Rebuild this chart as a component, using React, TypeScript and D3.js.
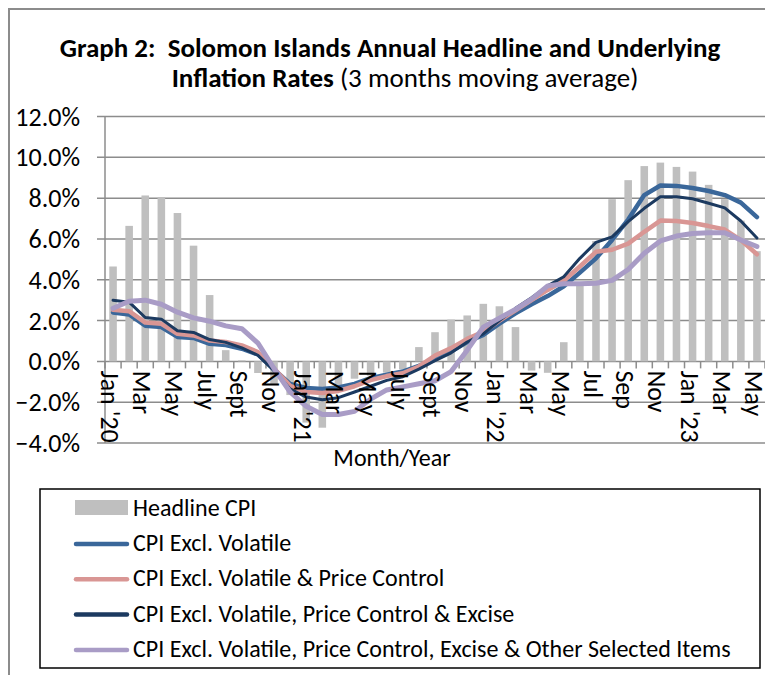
import { useEffect, useRef } from "react";
import * as d3 from "d3";

const months = [
  "Jan '20", "Feb", "Mar", "Apr", "May", "June", "July", "Aug", "Sept", "Oct", "Nov", "Dec",
  "Jan '21", "Feb", "Mar", "Apr", "May", "June", "July", "Aug", "Sept", "Oct", "Nov", "Dec",
  "Jan '22", "Feb", "Mar", "Apr", "May", "Jun", "Jul", "Aug", "Sep", "Oct", "Nov", "Dec",
  "Jan '23", "Feb", "Mar", "Apr", "May"
];

const yTicks = [-4, -2, 0, 2, 4, 6, 8, 10, 12];

const headlineCPI = [
  4.65, 6.64, 8.13, 8.05, 7.27, 5.67, 3.25, 0.55, 0.05, -0.57, -1.1, -1.65,
  -3.0, -3.25, -1.2, -0.85, -0.7, -0.55, -0.38, 0.7, 1.43, 2.05, 2.25, 2.82,
  2.7, 1.68, -0.45, -0.56, 0.94, 3.78, 5.9, 7.95, 8.88, 9.57, 9.74, 9.53,
  9.3, 8.65, 7.95, 6.9, 5.4
];

const exclVolatile = [
  2.4, 2.3, 1.75, 1.68, 1.2, 1.15, 0.86, 0.8, 0.62, 0.34, -0.4, -1.1,
  -1.3, -1.35, -1.28, -1.1, -0.82, -0.65, -0.5, -0.22, 0.1, 0.5, 0.95, 1.3,
  1.85, 2.35, 2.8, 3.2, 3.68, 4.35, 5.05, 5.95, 6.95, 8.15, 8.62, 8.6,
  8.5, 8.35, 8.15, 7.78, 7.07
];

const exclPriceControl = [
  2.53, 2.46, 1.9, 1.84, 1.35, 1.27, 1.02, 0.95, 0.78, 0.46, -0.35, -1.2,
  -1.5, -1.55, -1.45, -1.22, -0.92, -0.72, -0.58, -0.25, 0.28, 0.65, 1.1, 1.45,
  2.0, 2.5, 3.0, 3.5, 3.95, 4.65, 5.37, 5.47, 5.77, 6.35, 6.9, 6.88,
  6.78, 6.63, 6.46, 5.94, 5.25
];

const exclExcise = [
  3.0, 2.9, 2.15, 2.07, 1.5, 1.42, 1.07, 0.93, 0.66, 0.3, -0.45, -1.35,
  -1.75, -1.88, -1.78, -1.5, -1.22, -0.93, -0.75, -0.38, 0.03, 0.42, 0.95, 1.35,
  2.0, 2.6, 3.12, 3.7, 4.15, 5.05, 5.83, 6.1, 6.85, 7.5, 8.07, 8.07,
  7.97, 7.75, 7.52, 6.88, 6.05
];

const exclOther = [
  2.6, 2.95, 3.0, 2.8, 2.41, 2.13, 1.97, 1.74, 1.6, 0.9, -0.35, -1.5,
  -2.2, -2.6, -2.6, -2.45, -1.85, -1.4, -1.25, -1.1, -0.95, -0.5, 0.55, 1.68,
  2.12, 2.55, 3.05, 3.7, 3.8, 3.81, 3.83, 3.97, 4.5, 5.3, 5.9, 6.14,
  6.27, 6.3, 6.3, 5.95, 5.63
];

const FONT = "Carlito, Lato, sans-serif";

const lineSeries = [
  { name: "CPI Excl. Volatile", values: exclVolatile, color: "#3A679A", width: 4.5 },
  { name: "CPI Excl. Volatile & Price Control", values: exclPriceControl, color: "#D99694", width: 4.5 },
  { name: "CPI Excl. Volatile, Price Control & Excise", values: exclExcise, color: "#1C3A60", width: 3 },
  { name: "CPI Excl. Volatile, Price Control, Excise & Other Selected Items", values: exclOther, color: "#A99CC6", width: 5 }
];

export default function App() {
  const svgRef = useRef<SVGSVGElement>(null);

  useEffect(() => {
    const svg = d3.select(svgRef.current);
    svg.selectAll("*").remove();

    const left = 105, right = 765, top = 116.5, bottom = 443;

    const xScale = d3.scaleBand<number>()
      .domain(months.map((_, i) => i))
      .range([left, right])
      .paddingInner(0.53)
      .paddingOuter(0.265);
    const step = xScale.step();
    const cx = (i: number) => (xScale(i) as number) + xScale.bandwidth() / 2;

    const yScale = d3.scaleLinear().domain([-4, 12]).range([bottom, top]);

    // outer frame
    svg.append("path")
      .attr("d", "M9,675 L9,9 L765,9")
      .attr("fill", "none")
      .attr("stroke", "#8c8c8c")
      .attr("stroke-width", 2);

    // title
    const t1 = svg.append("text")
      .attr("x", 390).attr("y", 57)
      .attr("text-anchor", "middle")
      .attr("font-family", FONT).attr("font-size", 27).attr("font-weight", "bold")
      .attr("fill", "#000");
    t1.append("tspan").text("Graph 2:\u00a0 Solomon Islands Annual Headline and Underlying");

    const t2 = svg.append("text")
      .attr("x", 405).attr("y", 87)
      .attr("text-anchor", "middle")
      .attr("font-family", FONT).attr("font-size", 27)
      .attr("fill", "#000");
    t2.append("tspan").attr("font-weight", "bold").text("Inflation Rates");
    t2.append("tspan").text(" (3 months moving average)");

    // grid
    svg.append("g")
      .selectAll("line")
      .data(yTicks)
      .join("line")
      .attr("x1", left - 8).attr("x2", right)
      .attr("y1", d => yScale(d)).attr("y2", d => yScale(d))
      .attr("stroke", "#8c8c8c")
      .attr("stroke-width", 1.5);

    // bars
    svg.append("g")
      .selectAll("rect")
      .data(headlineCPI)
      .join("rect")
      .attr("x", (_, i) => xScale(i) as number)
      .attr("width", xScale.bandwidth())
      .attr("y", d => yScale(Math.max(0, d)))
      .attr("height", d => Math.abs(yScale(d) - yScale(0)))
      .attr("fill", "#BFBFBF");

    // y axis line
    svg.append("line")
      .attr("x1", left).attr("x2", left)
      .attr("y1", yScale(12)).attr("y2", yScale(-4))
      .attr("stroke", "#8c8c8c").attr("stroke-width", 1.5);

    // zero axis ticks
    svg.append("g")
      .selectAll("line")
      .data(d3.range(months.length + 1))
      .join("line")
      .attr("x1", i => left + i * step).attr("x2", i => left + i * step)
      .attr("y1", yScale(0)).attr("y2", yScale(0) + 7)
      .attr("stroke", "#8c8c8c").attr("stroke-width", 1.5);

    // lines
    const lineGen = d3.line<number>()
      .x((_, i) => cx(i))
      .y(d => yScale(d));

    svg.append("g")
      .selectAll("path")
      .data(lineSeries)
      .join("path")
      .attr("d", s => lineGen(s.values))
      .attr("fill", "none")
      .attr("stroke", s => s.color)
      .attr("stroke-width", s => s.width)
      .attr("stroke-linejoin", "round")
      .attr("stroke-linecap", "round");

    // x labels (every second month)
    svg.append("g")
      .selectAll("text")
      .data(months.map((m, i) => ({ m, i })).filter(d => d.i % 2 === 0))
      .join("text")
      .attr("transform", d => `translate(${cx(d.i) - 3},${yScale(0) + 9}) rotate(90)`)
      .attr("dominant-baseline", "central")
      .attr("font-family", FONT).attr("font-size", 26)
      .attr("fill", "#000")
      .text(d => d.m);

    // y labels
    svg.append("g")
      .selectAll("text")
      .data(yTicks)
      .join("text")
      .attr("x", 80)
      .attr("y", d => yScale(d))
      .attr("dy", "0.35em")
      .attr("text-anchor", "end")
      .attr("font-family", FONT).attr("font-size", 26)
      .attr("fill", "#000")
      .text(d => d3.format(".1f")(d) + "%");

    // axis title
    svg.append("text")
      .attr("x", 392).attr("y", 466)
      .attr("text-anchor", "middle")
      .attr("font-family", FONT).attr("font-size", 24)
      .attr("fill", "#000")
      .text("Month/Year");

    // legend
    const legend = svg.append("g");
    legend.append("rect")
      .attr("x", 40).attr("y", 489)
      .attr("width", 720).attr("height", 179)
      .attr("fill", "#fff")
      .attr("stroke", "#000").attr("stroke-width", 1.5);

    legend.append("rect")
      .attr("x", 75).attr("y", 500)
      .attr("width", 53).attr("height", 15)
      .attr("fill", "#BFBFBF");
    legend.append("text")
      .attr("x", 133).attr("y", 516)
      .attr("font-family", FONT).attr("font-size", 24)
      .text("Headline CPI");

    const items = legend.selectAll("g.item")
      .data(lineSeries)
      .join("g")
      .attr("class", "item")
      .attr("transform", (_, i) => `translate(0,${551 + i * 35.3})`);
    items.append("line")
      .attr("x1", 76).attr("x2", 127)
      .attr("y1", -7).attr("y2", -7)
      .attr("stroke", s => s.color)
      .attr("stroke-width", 4.5)
      .attr("stroke-linecap", "round");
    items.append("text")
      .attr("x", 133).attr("y", 0)
      .attr("font-family", FONT).attr("font-size", 24)
      .text(s => s.name);
  }, []);

  return (
    <svg
      ref={svgRef}
      width={765}
      height={675}
      style={{ position: "absolute", left: 0, top: 0, background: "#fff" }}
    />
  );
}
